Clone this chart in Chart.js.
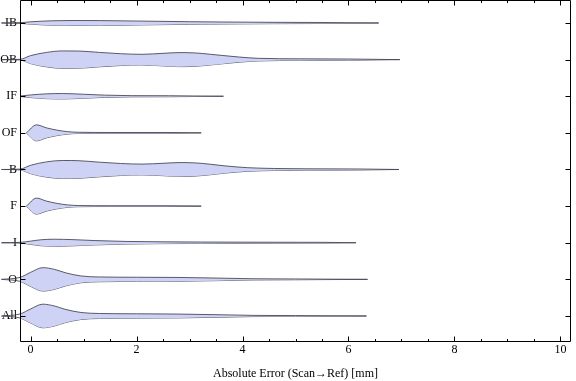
<!DOCTYPE html>
<html>
<head>
<meta charset="utf-8">
<script src="https://cdn.jsdelivr.net/npm/chart.js@4.4.1/dist/chart.umd.min.js"></script>
<style>
  html, body { margin: 0; padding: 0; background: #fff; }
  #wrap { width: 576px; height: 381px; }
</style>
</head>
<body>
<div id="wrap"><canvas id="violinChart"></canvas></div>
<script>
// categories, top to bottom
const categories = ['IB', 'OB', 'IF', 'OF', 'B', 'F', 'I', 'O', 'All'];
const xTicks = [0, 2, 4, 6, 8, 10];

// violin outlines: sample positions (mm) and relative density at each
const ibX = [-0.55, -0.2, 0, 0.4, 0.8, 1.3, 1.8, 2.4, 3.0, 3.6, 4.5, 5.5, 6.57];
const ibD = [0, 0.3, 1.2, 2.2, 2.5, 2.4, 2.1, 1.7, 1.3, 1.0, 0.7, 0.5, 0];

const obX = [-0.55, -0.2, 0, 0.3, 0.6, 0.9, 1.3, 1.7, 2.1, 2.5, 2.8, 3.1, 3.4, 3.65, 3.95, 4.3, 5.1, 6.0, 6.97];
const obD = [0, 0.3, 4, 7.2, 8.7, 8.6, 7.2, 5.9, 5.3, 6.3, 7.0, 6.7, 5.3, 4.0, 2.5, 1.3, 0.8, 0.6, 0];

const ifX = [-0.2, 0, 0.3, 0.6, 1.0, 1.4, 1.9, 2.6, 3.64];
const ifD = [0.2, 1.3, 2.4, 2.7, 2.0, 1.1, 0.6, 0.5, 0];

const ofX = [-0.08, 0.11, 0.3, 0.5, 0.7, 0.9, 1.5, 2.5, 3.22];
const ofD = [0, 8, 5, 2.7, 1.2, 0.6, 0.4, 0.4, 0];

const bX = [-0.55, -0.2, 0, 0.3, 0.6, 0.9, 1.3, 1.7, 2.1, 2.5, 2.8, 3.1, 3.4, 3.65, 4.1, 4.6, 5.2, 6.2, 6.95];
const bD = [0, 0.4, 4.2, 7.6, 9.0, 8.8, 7.3, 6.0, 5.4, 6.2, 6.9, 6.6, 5.2, 3.7, 1.8, 1.0, 0.7, 0.5, 0];

const fX = [-0.08, 0.11, 0.3, 0.5, 0.7, 0.9, 1.5, 2.5, 3.22];
const fD = [0, 8, 5, 2.7, 1.2, 0.6, 0.4, 0.4, 0];

const iX = [-0.55, -0.2, 0, 0.2, 0.45, 0.8, 1.2, 1.8, 2.5, 3.2, 4.5, 5.5, 6.14];
const iD = [0, 0.4, 1.6, 3.0, 3.5, 3.1, 2.2, 1.3, 0.9, 0.7, 0.5, 0.4, 0];

const oX = [-0.55, -0.2, 0, 0.23, 0.45, 0.65, 0.95, 1.3, 2.0, 2.8, 3.5, 4.2, 5.0, 6.36];
const oD = [0, 2, 7, 11.7, 10, 6.7, 3.4, 2.4, 2.1, 1.9, 1.3, 0.6, 0.4, 0];

const allX = [-0.55, -0.2, 0, 0.23, 0.45, 0.65, 0.95, 1.3, 2.0, 2.8, 3.5, 4.2, 5.0, 6.34];
const allD = [0, 2, 7, 11.8, 10, 6.7, 3.5, 2.5, 2.2, 1.9, 1.3, 0.6, 0.4, 0];

const violins = [[ibX, ibD], [obX, obD], [ifX, ifD], [ofX, ofD], [bX, bD], [fX, fD], [iX, iD], [oX, oD], [allX, allD]];

const densityScale = 1 / 36.6; // density -> category units
const serif = "'Liberation Serif', 'Times New Roman', serif";

function buildDatasets() {
    const sets = [];
    violins.forEach(([xs, ds], i) => {
        const c = categories.length - i;
        const common = {
            borderColor: 'rgba(65, 65, 80, 0.85)',
            borderWidth: 1,
            pointRadius: 0,
            cubicInterpolationMode: 'monotone',
            clip: false
        };
        sets.push(Object.assign({
            label: categories[i],
            data: xs.map((x, k) => ({ x: x, y: c + ds[k] * densityScale })),
            backgroundColor: 'rgb(206, 211, 246)',
            fill: '+1'
        }, common));
        sets.push(Object.assign({
            label: categories[i] + ' low',
            data: xs.map((x, k) => ({ x: x, y: c - ds[k] * densityScale })),
            fill: false
        }, common));
    });
    return sets;
}

const frameTicks = {
    id: 'frameTicks',
    afterDatasetsDraw(chart) {
        const { ctx, chartArea: a, scales: { x, y } } = chart;
        const L = Math.round(a.left) + 0.5, R = Math.round(a.right) - 0.5;
        const T = Math.round(a.top) + 0.5, B = Math.round(a.bottom) + 0.5;
        ctx.save();
        ctx.strokeStyle = '#000';
        ctx.lineWidth = 1;
        ctx.beginPath();
        ctx.rect(L, T, R - L, B - T);
        for (let v = 0; v <= 10; v += 0.5) {
            const px = Math.round(x.getPixelForValue(v)) + 0.5;
            const len = v % 2 === 0 ? 5 : 2.5;
            ctx.moveTo(px, B); ctx.lineTo(px, B - len);
            ctx.moveTo(px, T); ctx.lineTo(px, T + len);
        }
        for (let k = 1; k <= categories.length; k++) {
            const py = Math.round(y.getPixelForValue(k)) + 0.5;
            ctx.moveTo(L, py); ctx.lineTo(L + 5, py);
            ctx.moveTo(R, py); ctx.lineTo(R - 5, py);
        }
        ctx.stroke();
        ctx.restore();
    }
};

document.addEventListener('DOMContentLoaded', function() {
    const ctx = document.getElementById('violinChart').getContext('2d');
    new Chart(ctx, {
        type: 'line',
        data: { datasets: buildDatasets() },
        options: {
            responsive: true,
            maintainAspectRatio: false,
            animation: false,
            layout: { autoPadding: false, padding: { top: 0, right: 5, left: 0, bottom: 0 } },
            plugins: { legend: { display: false }, tooltip: { enabled: false } },
            scales: {
                x: {
                    type: 'linear',
                    min: -0.2,
                    max: 10.2,
                    grid: { display: false, drawTicks: false },
                    border: { display: false },
                    afterBuildTicks: s => { s.ticks = xTicks.map(v => ({ value: v })); },
                    afterFit: s => { s.height = 40; s.paddingLeft = 0; s.paddingRight = 0; },
                    ticks: { color: '#000', padding: 2, font: { family: serif, size: 12 } },
                    title: {
                        display: true,
                        text: 'Absolute Error (Scan\u2192Ref) [mm]',
                        color: '#000',
                        padding: { top: 0, bottom: 0 },
                        font: { family: serif, size: 12 }
                    }
                },
                y: {
                    type: 'linear',
                    min: 0.317,
                    max: 9.628,
                    grid: { display: false, drawTicks: false },
                    border: { display: false },
                    afterBuildTicks: s => { s.ticks = categories.map((c, i) => ({ value: categories.length - i })); },
                    afterFit: s => { s.width = 20; s.paddingTop = 0; s.paddingBottom = 0; },
                    ticks: {
                        color: '#000',
                        padding: 3,
                        font: { family: serif, size: 12 },
                        callback: v => categories[categories.length - v]
                    }
                }
            }
        },
        plugins: [frameTicks]
    });
});
</script>
</body>
</html>
